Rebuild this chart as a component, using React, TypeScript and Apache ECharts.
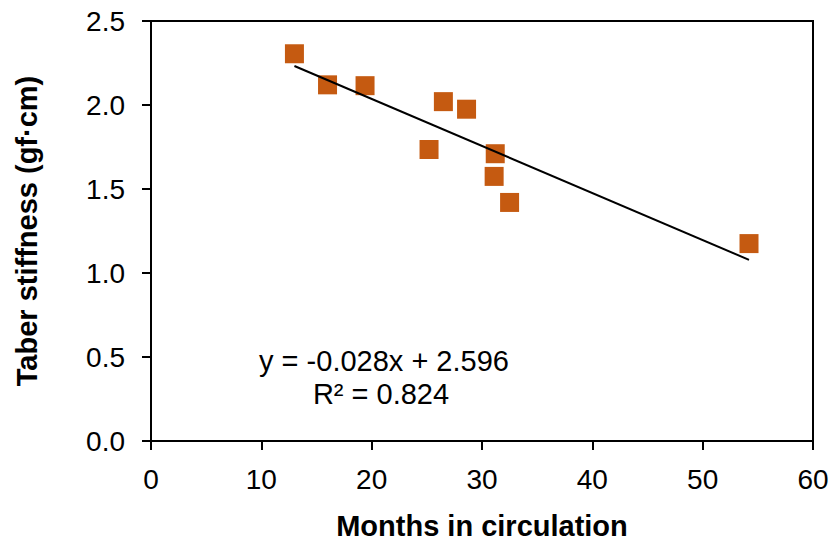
import React, { useEffect, useRef } from "react";
import * as echarts from "echarts";

const monthsInCirculation = [13.0, 16.0, 19.4, 26.5, 28.6, 25.2, 31.2, 31.1, 32.5, 54.2];
const taberStiffness = [2.305, 2.12, 2.115, 2.02, 1.975, 1.735, 1.71, 1.575, 1.42, 1.175];
const trendSlope = -0.028;
const trendIntercept = 2.596;
const equationLines = ["y = -0.028x + 2.596", "R\u00b2 = 0.824"];
const xTitle = "Months in circulation";
const yTitle = "Taber stiffness (gf\u00b7cm)";

const FONT = 'Arial, "Liberation Sans", sans-serif';

export default function App() {
  const ref = useRef<HTMLDivElement>(null);
  useEffect(() => {
    if (!ref.current) return;
    const chart = echarts.init(ref.current, undefined, { renderer: "svg" });
    const points = monthsInCirculation.map((x, i) => [x, taberStiffness[i]]);
    const xMin = Math.min(...monthsInCirculation);
    const xMax = Math.max(...monthsInCirculation);
    const trend = [
      [xMin, trendSlope * xMin + trendIntercept],
      [xMax, trendSlope * xMax + trendIntercept],
    ];
    const axisLine = { show: true, onZero: false, lineStyle: { color: "#000", width: 2 } };
    const axisTick = { show: true, inside: false, length: 9, lineStyle: { color: "#000", width: 2 } };
    chart.setOption({
      animation: false,
      backgroundColor: "#fff",
      grid: {
        left: 151,
        right: 17,
        top: 21,
        bottom: 100,
        show: true,
        borderColor: "#000",
        borderWidth: 2,
        containLabel: false,
        outerBoundsMode: "none",
      },
      xAxis: {
        type: "value",
        min: 0,
        max: 60,
        interval: 10,
        name: xTitle,
        nameLocation: "middle",
        nameGap: 70,
        nameTextStyle: { fontFamily: FONT, fontSize: 29, fontWeight: "bold", color: "#000" },
        axisLine,
        axisTick,
        splitLine: { show: false },
        axisLabel: { fontFamily: FONT, fontSize: 28, color: "#000", margin: 24 },
      },
      yAxis: {
        type: "value",
        min: 0,
        max: 2.5,
        interval: 0.5,
        name: yTitle,
        nameLocation: "middle",
        nameGap: 110,
        nameTextStyle: { fontFamily: FONT, fontSize: 29, fontWeight: "bold", color: "#000" },
        axisLine,
        axisTick,
        splitLine: { show: false },
        axisLabel: {
          fontFamily: FONT,
          fontSize: 28,
          color: "#000",
          margin: 26,
          formatter: (v: number) => v.toFixed(1),
        },
      },
      series: [
        {
          type: "line",
          data: trend,
          symbol: "none",
          lineStyle: { color: "#000", width: 2 },
          silent: true,
          z: 3,
        },
        {
          type: "scatter",
          data: points,
          symbol: "rect",
          symbolSize: 19,
          itemStyle: { color: "#C55A11", opacity: 1 },
          z: 2,
        },
      ],
      graphic: [
        {
          type: "text",
          x: 384,
          y: 361,
          style: {
            text: equationLines[0],
            fontFamily: FONT,
            fontSize: 29,
            fill: "#000",
            align: "center",
            verticalAlign: "middle",
          },
        },
        {
          type: "text",
          x: 381,
          y: 394,
          style: {
            text: equationLines[1],
            fontFamily: FONT,
            fontSize: 29,
            fill: "#000",
            align: "center",
            verticalAlign: "middle",
          },
        },
      ],
    });
    return () => chart.dispose();
  }, []);
  return (
    <div
      ref={ref}
      style={{ position: "fixed", left: 0, top: 0, width: 830, height: 541 }}
    />
  );
}
